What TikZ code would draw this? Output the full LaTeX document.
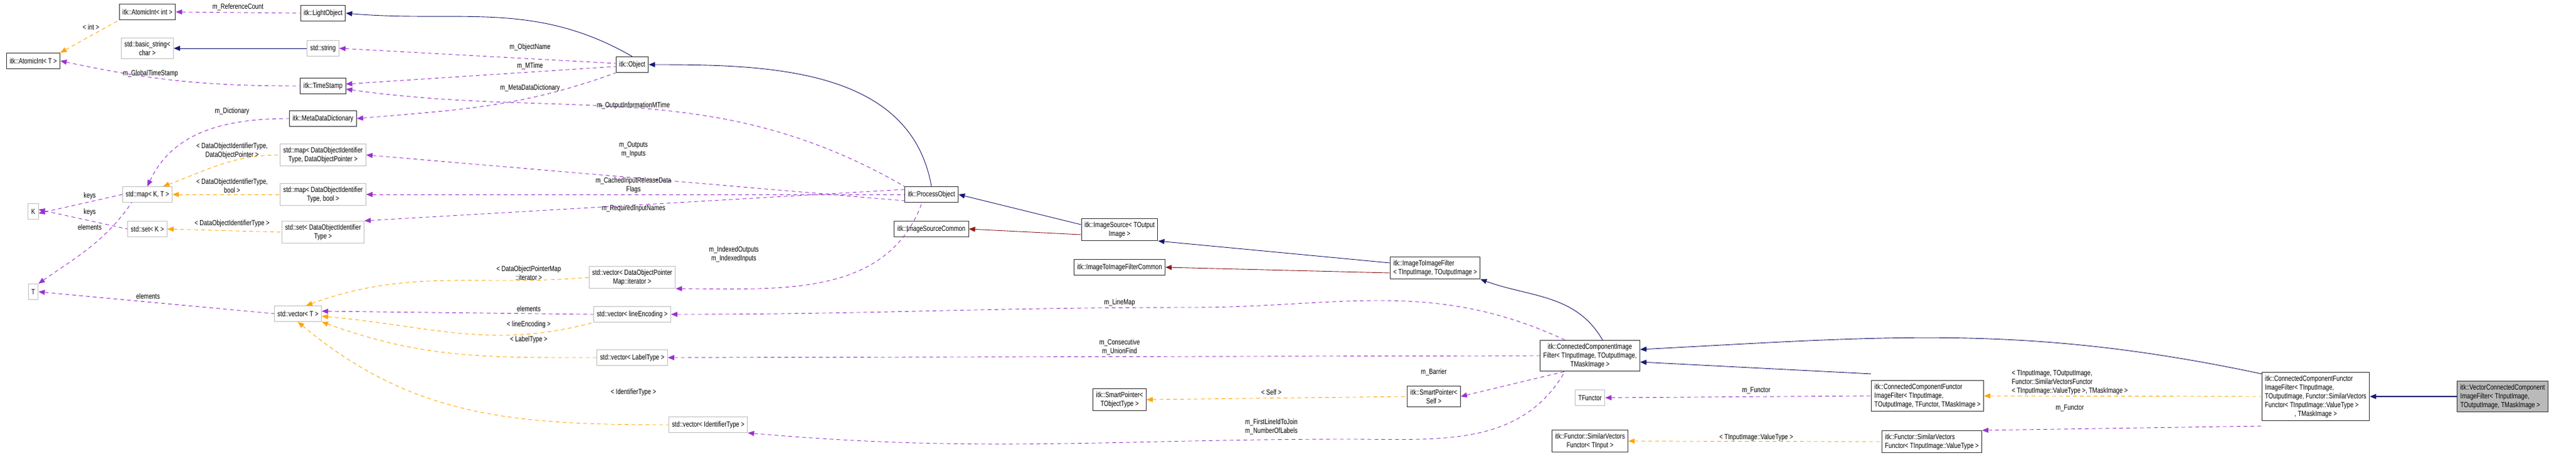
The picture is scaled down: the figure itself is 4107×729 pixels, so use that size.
\documentclass[tikz,border=0pt]{standalone}
\usepackage{fontspec}
\setmainfont{Liberation Sans}[FakeStretch=0.78]
\usetikzlibrary{arrows.meta}
\definecolor{navy}{HTML}{191970}
\definecolor{usec}{HTML}{9A32CD}
\definecolor{tmplc}{HTML}{FFA500}
\definecolor{redc}{HTML}{8B1A1A}
\begin{document}
\begin{tikzpicture}[x=1pt,y=-1pt,
  font=\fontsize{12}{14}\selectfont,
  every node/.style={inner sep=0pt},
  bk/.style={draw=black!80,line width=1pt,fill=white,inner xsep=5pt,inner ysep=5pt,minimum height=25pt,align=center},
  gr/.style={draw=black!25,line width=1pt,fill=white,inner xsep=5pt,inner ysep=5pt,minimum height=25pt,align=center},
  lab/.style={align=center},
  inh/.style={draw=navy,line width=0.9pt,{Triangle[length=10pt,width=8pt]}-},
  red/.style={draw=redc,line width=0.9pt,{Triangle[length=10pt,width=8pt]}-},
  use/.style={draw=usec,line width=0.9pt,dash pattern=on 6pt off 5pt,{Triangle[length=10pt,width=8pt]}-},
  tpl/.style={draw=tmplc,line width=0.9pt,dash pattern=on 6pt off 5pt,{Triangle[length=10pt,width=8pt]}-}]
\useasboundingbox (0,0) rectangle (4107,729);
% column 1
\node[bk] (aiT) at (53,97) {itk::AtomicInt< T >};
\node[gr] (K) at (53,337) {K};
\node[gr] (T) at (53,465) {T};
% column 2
\node[bk] (ai) at (235,19) {itk::AtomicInt< int >};
\node[gr] (bstr) at (235,77) {std::basic\_string<\\char >};
\node[gr] (mapKT) at (235,310) {std::map< K, T >};
\node[gr] (setK) at (235,365) {std::set< K >};
% column 3
\node[bk] (light) at (515,21) {itk::LightObject};
\node[gr] (str) at (515,77) {std::string};
\node[bk] (ts) at (515,137) {itk::TimeStamp};
\node[bk] (mdd) at (515,189) {itk::MetaDataDictionary};
\node[gr] (mapDOP) at (515,247) {std::map< DataObjectIdentifier\\Type, DataObjectPointer >};
\node[gr] (mapBool) at (515,310) {std::map< DataObjectIdentifier\\Type, bool >};
\node[gr] (setDOI) at (515,370) {std::set< DataObjectIdentifier\\Type >};
\node[gr] (vecT) at (475,500) {std::vector< T >};
% column 4
\node[bk] (obj) at (1008,103) {itk::Object};
\node[gr] (vecIt) at (1008,442) {std::vector< DataObjectPointer\\Map::iterator >};
\node[gr] (vecLE) at (1008,501) {std::vector< lineEncoding >};
\node[gr] (vecLT) at (1008,570) {std::vector< LabelType >};
\node[gr] (vecId) at (1129,677) {std::vector< IdentifierType >};
% column 5
\node[bk] (proc) at (1485,310) {itk::ProcessObject};
\node[bk] (isc) at (1485,365) {itk::ImageSourceCommon};
% column 6
\node[bk] (imgsrc) at (1785,366) {itk::ImageSource< TOutput\\Image >};
\node[bk] (i2ic) at (1785,426) {itk::ImageToImageFilterCommon};
\node[bk] (spT) at (1785,637) {itk::SmartPointer<\\TObjectType >};
% column 7
\node[bk,align=left] (i2i) at (2288,427) {itk::ImageToImageFilter\\< TInputImage, TOutputImage >};
\node[bk] (spSelf) at (2286,632) {itk::SmartPointer<\\Self >};
% column 8
\node[bk] (ccif) at (2535,567) {itk::ConnectedComponentImage\\Filter< TInputImage, TOutputImage,\\TMaskImage >};
\node[gr] (tf) at (2535,634) {TFunctor};
\node[bk] (svfT) at (2535,703) {itk::Functor::SimilarVectors\\Functor< TInput >};
% column 9
\node[bk,align=left] (ccfif) at (3073,631) {itk::ConnectedComponentFunctor\\ImageFilter< TInputImage,\\ TOutputImage, TFunctor, TMaskImage >};
\node[bk,align=left] (svfv) at (3080,704) {itk::Functor::SimilarVectors\\Functor< TInputImage::ValueType >};
% column 10
\node[bk,align=left] (ccfsv) at (3692,632) {itk::ConnectedComponentFunctor\\ImageFilter< TInputImage,\\ TOutputImage, Functor::SimilarVectors\\Functor< TInputImage::ValueType >\\\hfill, TMaskImage >\hfill\hbox{}};
\node[bk,fill=black!27,align=left] (vec) at (3990,632) {itk::VectorConnectedComponent\\ImageFilter< TInputImage,\\ TOutputImage, TMaskImage >};

% inheritance
\draw[inh] (bstr.east) -- (str.west);
\draw[inh] (light.east) to[out=-5,in=150] (obj.north);
\draw[inh] (obj.east) to[out=0,in=100] (proc.north);
\draw[inh] (proc.east) -- ([yshift=8]imgsrc.west);
\draw[inh] (imgsrc.south east) -- ([yshift=8]i2i.west);
\draw[inh] (i2i.south east) to[out=-20,in=120] ([xshift=20]ccif.north);
\draw[inh] ([yshift=-10]ccif.east) -- ([yshift=10]ccfif.north west);
\draw[inh] ([yshift=10]ccif.east) to[out=3,in=168] ([yshift=-3]ccfsv.north west);
\draw[inh,line width=1.3pt] (ccfsv.east) -- (vec.west);
\draw[red] (isc.east) -- ([yshift=-8]imgsrc.west);
\draw[red] (i2ic.east) -- ([yshift=-8]i2i.west);

% usage
\draw[use] (ai.east) -- (light.west) node[lab,pos=0.5,above=3pt] (l1) {m\_ReferenceCount};
\draw[use] (aiT.east) to[out=-12,in=180] (ts.west);
\node[lab] (l2) at (240,117) {m\_GlobalTimeStamp};
\draw[use] (str.east) -- ([yshift=2]obj.west);
\node[lab] (l3) at (845,75) {m\_ObjectName};
\draw[use] ([yshift=3]ts.east) -- ([yshift=-3]obj.west);
\node[lab] (l4) at (845,105) {m\_MTime};
\draw[use] (mdd.east) to[out=5,in=200] (obj.south west);
\node[lab] (l5) at (845,140) {m\_MetaDataDictionary};
\draw[use] ([yshift=-5]ts.east) to[out=-8,in=150] (proc.north west);
\node[lab] (l6) at (1010,168) {m\_OutputInformationMTime};
\draw[use] (mapKT.north) to[out=65,in=180] (mdd.west);
\node[lab] (l7) at (370,177) {m\_Dictionary};
\draw[use] ([yshift=-3]K.east) -- (mapKT.west);
\node[lab] (l8) at (143,312) {keys};
\draw[use] ([yshift=3]K.east) -- (setK.west);
\node[lab] (l9) at (143,338) {keys};
\draw[use] (T.north east) to[out=35,in=-125] ([xshift=-25]mapKT.south);
\node[lab] (l10) at (143,362) {elements};
\draw[use] (T.east) -- (vecT.west);
\node[lab] (l11) at (236,472) {elements};
\draw[use] (mapDOP.east) -- ([yshift=-10]proc.west);
\node[lab] (l12) at (1010,239) {m\_Outputs\\m\_Inputs};
\draw[use] (mapBool.east) -- (proc.west);
\node[lab] (l13) at (1010,295) {m\_CachedInputReleaseData\\Flags};
\draw[use] (setDOI.north east) -- ([yshift=8]proc.west);
\node[lab] (l14) at (1010,332) {m\_RequiredInputNames};
\draw[use] (vecIt.south east) to[out=0,in=-110] ([xshift=-15]proc.south);
\node[lab] (l15) at (1170,405) {m\_IndexedOutputs\\m\_IndexedInputs};
\draw[use] (vecLE.east) to[out=0,in=180] (1900,490) to[out=0,in=155] ([xshift=-40]ccif.north);
\node[lab] (l16) at (1785,482) {m\_LineMap};
\draw[use] (vecLT.east) -- (ccif.west);
\node[lab] (l17) at (1785,553) {m\_Consecutive\\m\_UnionFind};
\draw[use] (spSelf.east) -- ([xshift=-40]ccif.south);
\node[lab] (l18) at (2286,593) {m\_Barrier};
\draw[use] (vecId.south east) to[out=-5,in=180] (2150,700) to[out=0,in=-120] ([xshift=-40]ccif.south);
\node[lab] (l19) at (2027,680) {m\_FirstLineIdToJoin\\m\_NumberOfLabels};
\draw[use] (tf.east) -- (ccfif.west);
\node[lab] (l20) at (2800,623) {m\_Functor};
\draw[use] (svfv.north east) -- ([yshift=-8]ccfsv.south west);
\node[lab] (l21) at (3300,651) {m\_Functor};

% template instances
\draw[tpl] (aiT.north east) -- (ai.south west);
\node[lab] (l22) at (145,43) {< int >};
\draw[tpl] ([xshift=25]mapKT.north) to[out=20,in=180] (mapDOP.west);
\node[lab] (l23) at (370,240) {< DataObjectIdentifierType,\\DataObjectPointer >};
\draw[tpl] (mapKT.east) -- (mapBool.west);
\node[lab] (l24) at (370,296) {< DataObjectIdentifierType,\\bool >};
\draw[tpl] (setK.east) -- (setDOI.west);
\node[lab] (l25) at (370,356) {< DataObjectIdentifierType >};
\draw[tpl] ([xshift=-25]vecT.north east) to[out=20,in=185] (vecIt.west);
\node[lab] (l26) at (843,435) {< DataObjectPointerMap\\::iterator >};
\draw[tpl] ([yshift=-4]vecT.east) to[out=-5,in=195] (vecLE.south west);
\node[lab] (l27) at (843,517) {< lineEncoding >};
\draw[use] ([yshift=4]vecT.east) -- (vecLE.west);
\node[lab] (l28) at (843,492) {elements};
\draw[tpl] (vecT.south east) to[out=-20,in=180] (vecLT.west);
\node[lab] (l29) at (843,541) {< LabelType >};
\draw[tpl] (vecT.south) to[out=-40,in=180] (vecId.west);
\node[lab] (l30) at (1010,625) {< IdentifierType >};
\draw[tpl] (spT.east) -- (spSelf.west);
\node[lab] (l31) at (2027,625) {< Self >};
\draw[tpl] (svfT.east) -- (svfv.west);
\node[lab] (l32) at (2800,697) {< TInputImage::ValueType >};
\draw[tpl] (ccfif.east) -- (ccfsv.west);
\node[lab,align=left] (l33) at (3300,610) {< TInputImage, TOutputImage,\\Functor::SimilarVectorsFunctor\\< TInputImage::ValueType >, TMaskImage >};
\end{tikzpicture}
\end{document}
